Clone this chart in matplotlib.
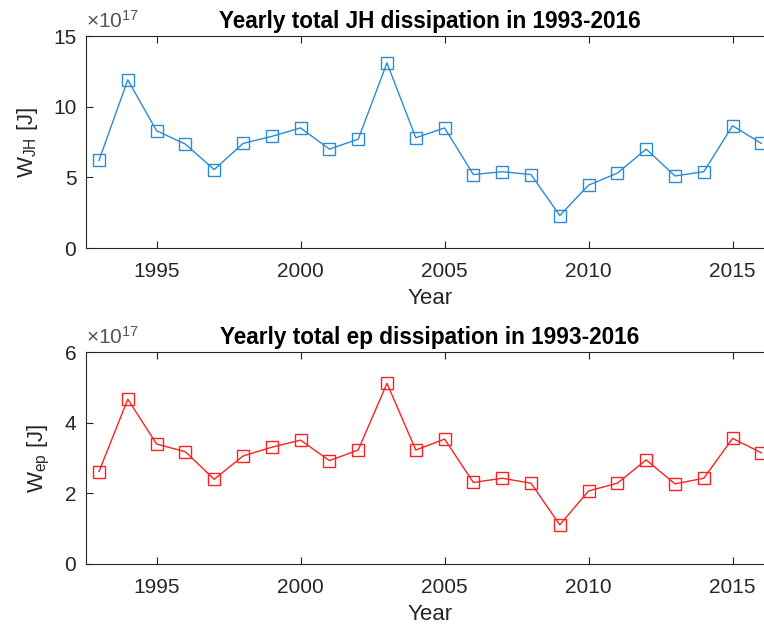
import numpy as np
import matplotlib
matplotlib.use('Agg')
import matplotlib.pyplot as plt

plt.rcParams['font.family'] = ['Liberation Sans', 'DejaVu Sans']
plt.rcParams['mathtext.fontset'] = 'custom'
plt.rcParams['mathtext.rm'] = 'Liberation Sans'
plt.rcParams['mathtext.it'] = 'Liberation Sans'

years = np.arange(1993, 2017)
w_jh = [6.2, 11.9, 8.3, 7.35, 5.55, 7.4, 7.9, 8.5, 7.0, 7.7, 13.1, 7.8,
        8.5, 5.2, 5.4, 5.2, 2.3, 4.45, 5.3, 7.0, 5.1, 5.4, 8.65, 7.4]
w_ep = [2.62, 4.67, 3.40, 3.18, 2.40, 3.06, 3.31, 3.51, 2.93, 3.23, 5.12, 3.23,
        3.54, 2.31, 2.43, 2.29, 1.11, 2.07, 2.29, 2.95, 2.27, 2.43, 3.56, 3.15]

panels = [
    (w_jh, '#2b8bd4', 'Yearly total JH dissipation in 1993-2016', r'W$_{\rm JH}$ [J]', [0, 5, 10, 15]),
    (w_ep, '#ff2020', 'Yearly total ep dissipation in 1993-2016', r'W$_{\rm ep}$ [J]', [0, 2, 4, 6]),
]

fig = plt.figure(figsize=(7.64, 6.3), dpi=100)
axes_pos = [[0.1126, 0.6063, 0.9, 0.3365], [0.1126, 0.1048, 0.9, 0.336]]
gray = '#262626'

for (vals, col, title, ylab, yt), pos in zip(panels, axes_pos):
    ax = fig.add_axes(pos)
    ax.plot(years, np.array(vals), '-s', color=col, lw=1.0, ms=9,
            mfc='none', mec=col, mew=1.0)
    ax.set_xlim(1992.55, 1992.55 + 0.9 * 7.64 * 100 / 28.8)
    ax.set_ylim(yt[0], yt[-1])
    ax.set_yticks(yt)
    ax.set_xticks([1995, 2000, 2005, 2010, 2015])
    ax.tick_params(direction='in', top=True, right=False, labelsize=15,
                   colors=gray, length=5, width=0.8)
    ax.tick_params(axis='x', pad=10)
    ax.tick_params(axis='y', pad=7)
    for s in ['left', 'bottom', 'top']:
        ax.spines[s].set_color(gray)
        ax.spines[s].set_linewidth(0.8)
    ax.spines['right'].set_visible(False)
    ax.set_title(title, fontsize=16.3, fontweight='bold', color='black', pad=6)
    ax.set_xlabel('Year', fontsize=16, color=gray, labelpad=5)
    ax.set_ylabel(ylab, fontsize=16, color=gray, labelpad=9)
    ax.text(0.0, 1.02, r'$\times 10^{17}$', transform=ax.transAxes,
            fontsize=15, color='#555555', ha='left', va='bottom')

fig.savefig('out.png', dpi=100)
